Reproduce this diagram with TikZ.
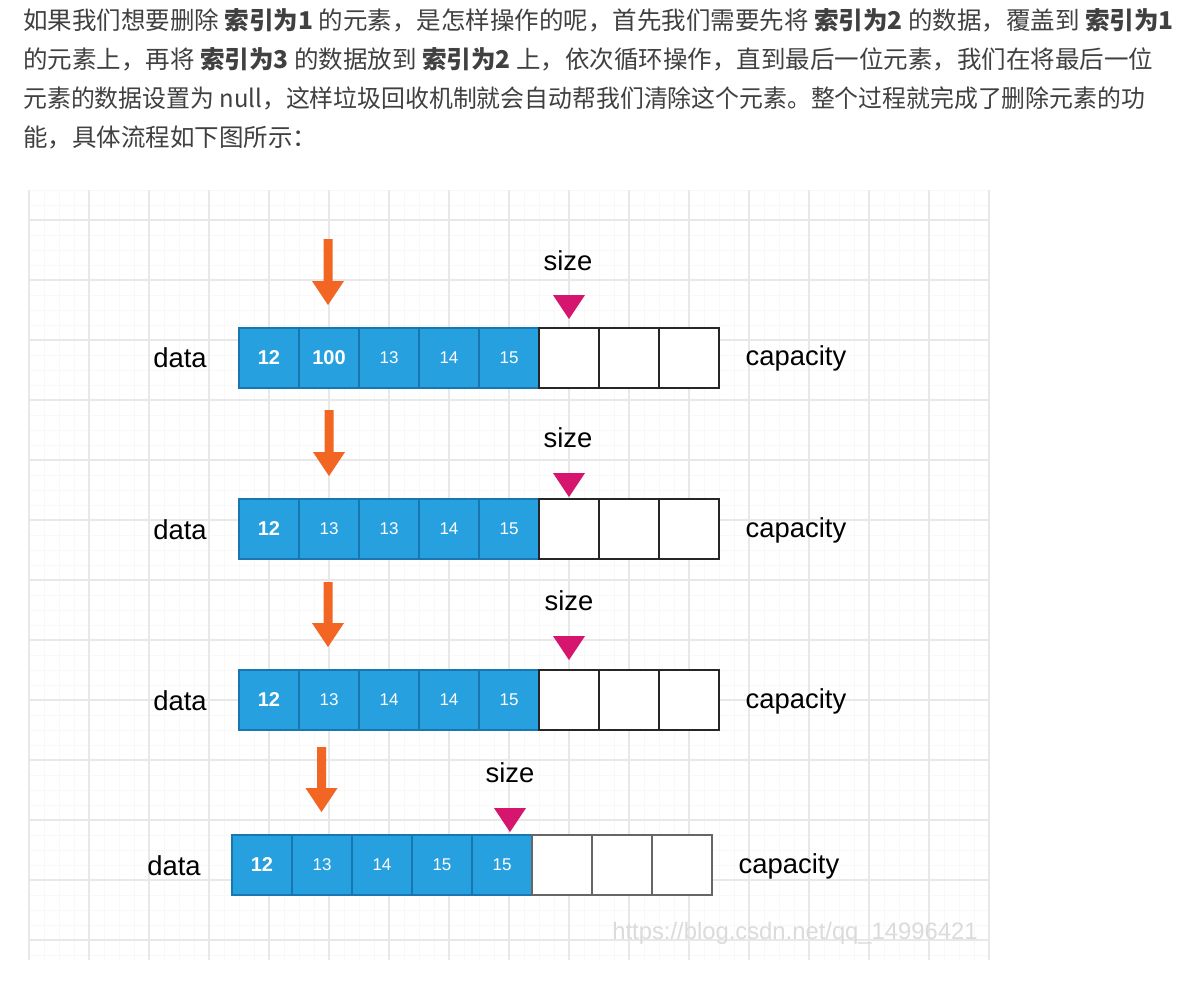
\documentclass[tikz,border=0pt]{standalone}
\usepackage{fontspec}
\setmainfont{Liberation Sans}
\newfontfamily\cjk{Noto Sans CJK SC}
\definecolor{txtgray}{RGB}{64,64,64}
\definecolor{gridmajor}{RGB}{232,232,232}
\definecolor{gridminor}{RGB}{248,248,248}
\definecolor{cellblue}{RGB}{38,160,222}
\definecolor{cellborder}{RGB}{24,118,176}
\definecolor{arroworange}{RGB}{242,101,34}
\definecolor{sizemagenta}{RGB}{214,22,110}
\tikzset{
  majorgrid/.style={draw=gridmajor, line width=0.6pt},
  minorgrid/.style={draw=gridminor, line width=0.5pt},
  paratext/.style={anchor=west, inner sep=0pt, text=txtgray, font=\cjk\fontsize{12.25}{14}\selectfont},
  bluecell/.style={draw=cellborder, fill=cellblue, line width=0.8pt, text=white, minimum width=30pt, minimum height=30pt, inner sep=0pt, font=\fontsize{8.5}{10}\selectfont},
  whitecell/.style={draw=black!85, fill=white, line width=1pt, minimum width=30pt, minimum height=30pt, inner sep=0pt},
  whitecellgray/.style={whitecell, draw=black!60},
  lbl/.style={inner sep=0pt, text=black, font=\fontsize{13.7}{16}\selectfont},
  orangearrow/.style={fill=arroworange, draw=none},
  sizetri/.style={fill=sizemagenta, draw=none},
  watermark/.style={inner sep=0pt, text=black!14, font=\fontsize{11.9}{14}\selectfont}
}
\newcommand\myarrow[4]{% cx, top, headtop, tip
  \fill[orangearrow] ({#1-4.5},#2) -- ({#1+4.5},#2) -- ({#1+4.5},#3) -- ({#1+16},#3) -- (#1,#4) -- ({#1-16},#3) -- ({#1-4.5},#3) -- cycle;}
\newcommand\mytri[3]{% cx, top, tip
  \fill[sizetri] ({#1-16},#2) -- ({#1+16},#2) -- (#1,#3) -- cycle;}
\begin{document}
\begin{tikzpicture}[x=0.5pt, y=-0.5pt]
\useasboundingbox[fill=white] (0,0) rectangle (1190,998);
% paragraph
\node[paratext] (p1) at (23,20) {如果我们想要删除 \textbf{索引为1} 的元素，是怎样操作的呢，首先我们需要先将 \textbf{索引为2} 的数据，覆盖到 \textbf{索引为1}};
\node[paratext] (p2) at (23,59) {的元素上，再将 \textbf{索引为3} 的数据放到 \textbf{索引为2} 上，依次循环操作，直到最后一位元素，我们在将最后一位};
\node[paratext, xscale=0.974, transform shape] (p3) at (23,98) {元素的数据设置为 null，这样垃圾回收机制就会自动帮我们清除这个元素。整个过程就完成了删除元素的功};
\node[paratext] (p4) at (23,137) {能，具体流程如下图所示：};
% grid
\foreach \x in {29,44,...,989} \draw[minorgrid] (\x,190) -- (\x,960);
\foreach \y in {190,205,...,960} \draw[minorgrid] (29,\y) -- (989,\y);
\foreach \x in {29,89,...,989} \draw[majorgrid] (\x,190) -- (\x,960);
\foreach \y in {220,280,...,940} \draw[majorgrid] (29,\y) -- (989,\y);
% watermark
\node[watermark] (wm) at (795,933) {https://blog.csdn.net/qq\_14996421};
% row 1
\foreach \v [count=\i from 0] in {\textbf{\fontsize{10}{12}\selectfont 12},\textbf{\fontsize{10}{12}\selectfont 100},13,14,15}
  \node[bluecell] (a\i) at ({269+60*\i},358) {\v};
\foreach \i in {5,6,7} \node[whitecell] (a\i) at ({269+60*\i},358) {};
\node[lbl] (adata) at (180,358) {data};
\node[lbl] (acap) at (796,358) {capacity};
\node[lbl] (asize) at (568,261) {size};
\myarrow{328}{239}{281}{305}
\mytri{569}{295}{319}
% row 2
\foreach \v [count=\i from 0] in {\textbf{\fontsize{10}{12}\selectfont 12},13,13,14,15}
  \node[bluecell] (b\i) at ({269+60*\i},529) {\v};
\foreach \i in {5,6,7} \node[whitecell] (b\i) at ({269+60*\i},529) {};
\node[lbl] (bdata) at (180,530) {data};
\node[lbl] (bcap) at (796,530) {capacity};
\node[lbl] (bsize) at (568,438) {size};
\myarrow{329}{410}{452}{476}
\mytri{569}{473}{497}
% row 3
\foreach \v [count=\i from 0] in {\textbf{\fontsize{10}{12}\selectfont 12},13,14,14,15}
  \node[bluecell] (c\i) at ({269+60*\i},700) {\v};
\foreach \i in {5,6,7} \node[whitecell] (c\i) at ({269+60*\i},700) {};
\node[lbl] (cdata) at (180,701) {data};
\node[lbl] (ccap) at (796,701) {capacity};
\node[lbl] (csize) at (569,601) {size};
\myarrow{328}{582}{623}{647}
\mytri{569}{636}{660}
% row 4
\foreach \v [count=\i from 0] in {\textbf{\fontsize{10}{12}\selectfont 12},13,14,15,15}
  \node[bluecell] (d\i) at ({262+60*\i},865) {\v};
\foreach \i in {5,6,7} \node[whitecellgray] (d\i) at ({262+60*\i},865) {};
\node[lbl] (ddata) at (174,866) {data};
\node[lbl] (dcap) at (789,866) {capacity};
\node[lbl] (dsize) at (510,773) {size};
\myarrow{321.5}{747}{788}{812}
\mytri{510}{808}{832}
\end{tikzpicture}
\end{document}
